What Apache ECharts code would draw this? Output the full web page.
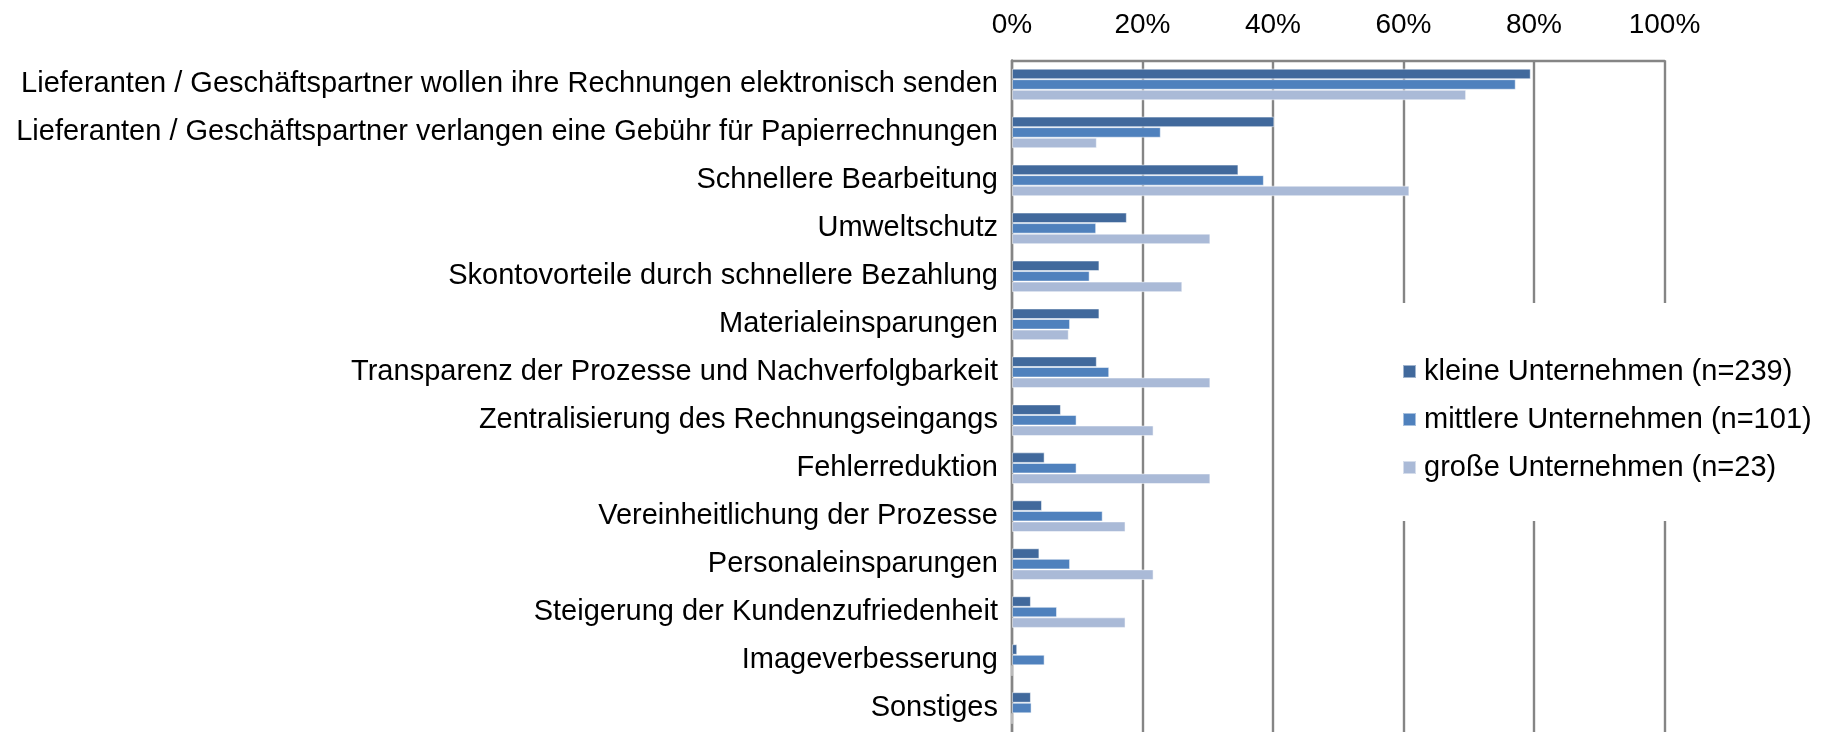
<!DOCTYPE html>
<html>
<head>
<meta charset="utf-8">
<script src="https://cdn.jsdelivr.net/npm/echarts@6/dist/echarts.min.js"></script>
<style>
  html, body { margin: 0; padding: 0; background: #ffffff; }
  #chart { width: 1829px; height: 732px; }
</style>
</head>
<body>
<div id="chart"></div>
<script>
// Gründe für den elektronischen Rechnungsempfang, Anteil der Unternehmen in %
const categories = [
  'Lieferanten / Geschäftspartner wollen ihre Rechnungen elektronisch senden',
  'Lieferanten / Geschäftspartner verlangen eine Gebühr für Papierrechnungen',
  'Schnellere Bearbeitung',
  'Umweltschutz',
  'Skontovorteile durch schnellere Bezahlung',
  'Materialeinsparungen',
  'Transparenz der Prozesse und Nachverfolgbarkeit',
  'Zentralisierung des Rechnungseingangs',
  'Fehlerreduktion',
  'Vereinheitlichung der Prozesse',
  'Personaleinsparungen',
  'Steigerung der Kundenzufriedenheit',
  'Imageverbesserung',
  'Sonstiges'
];

const seriesNames = [
  'kleine Unternehmen (n=239)',
  'mittlere Unternehmen (n=101)',
  'große Unternehmen (n=23)'
];

const kleine   = [79.5, 40.2, 34.7, 17.6, 13.4, 13.4, 13.0, 7.5, 5.0, 4.6, 4.2, 2.9, 0.8, 2.9];
const mittlere = [77.2, 22.8, 38.6, 12.9, 11.9, 8.9, 14.9, 9.9, 9.9, 13.9, 8.9, 6.9, 5.0, 3.0];
const grosse   = [69.6, 13.0, 60.9, 30.4, 26.1, 8.7, 30.4, 21.7, 30.4, 17.4, 21.7, 17.4, 0, 0];

const xTicks = { min: 0, max: 100, interval: 20 };

const colors = ['#41699c', '#4f81bd', '#aabad7'];
const gridGray = '#858585';
const font = '"Liberation Sans", Arial, sans-serif';

const chart = echarts.init(document.getElementById('chart'), null, { renderer: 'canvas' });

function barSeries(name, data, color) {
  return {
    name: name,
    type: 'bar',
    data: data,
    barGap: '0%',
    barCategoryGap: '34%',
    itemStyle: { color: color, borderColor: 'rgba(255,255,255,0.5)', borderWidth: 1 },
    emphasis: { disabled: true },
    z: 2
  };
}

chart.setOption({
  animation: false,
  backgroundColor: '#ffffff',
  color: colors,
  textStyle: { fontFamily: font, color: '#000000' },
  grid: { left: 1012, right: 164.5, top: 60.5, height: 674.5, containLabel: false },
  xAxis: {
    type: 'value',
    position: 'top',
    min: xTicks.min,
    max: xTicks.max,
    interval: xTicks.interval,
    axisLine: { show: true, lineStyle: { color: gridGray, width: 2.4 } },
    axisTick: { show: false },
    axisLabel: {
      formatter: '{value}%',
      fontSize: 28,
      fontFamily: font,
      color: '#000000',
      margin: 21
    },
    splitLine: { show: true, lineStyle: { color: gridGray, width: 2.4 } }
  },
  yAxis: {
    type: 'category',
    inverse: true,
    data: categories,
    axisLine: { show: true, lineStyle: { color: gridGray, width: 2.4 } },
    axisTick: { show: false },
    axisLabel: {
      fontSize: 29,
      fontFamily: font,
      color: '#000000',
      margin: 14,
      interval: 0
    },
    splitLine: { show: false }
  },
  legend: {
    orient: 'vertical',
    left: 1395,
    top: 303,
    padding: [54, 20, 39, 7],
    backgroundColor: '#ffffff',
    itemWidth: 13,
    itemHeight: 13,
    itemGap: 19,
    icon: 'rect',
    z: 10,
    selectedMode: false,
    data: seriesNames,
    textStyle: { fontSize: 29, fontFamily: font, color: '#000000', padding: [0, 0, 0, 3] }
  },
  series: [
    barSeries(seriesNames[0], kleine, colors[0]),
    barSeries(seriesNames[1], mittlere, colors[1]),
    barSeries(seriesNames[2], grosse, colors[2])
  ]
});
</script>
</body>
</html>
